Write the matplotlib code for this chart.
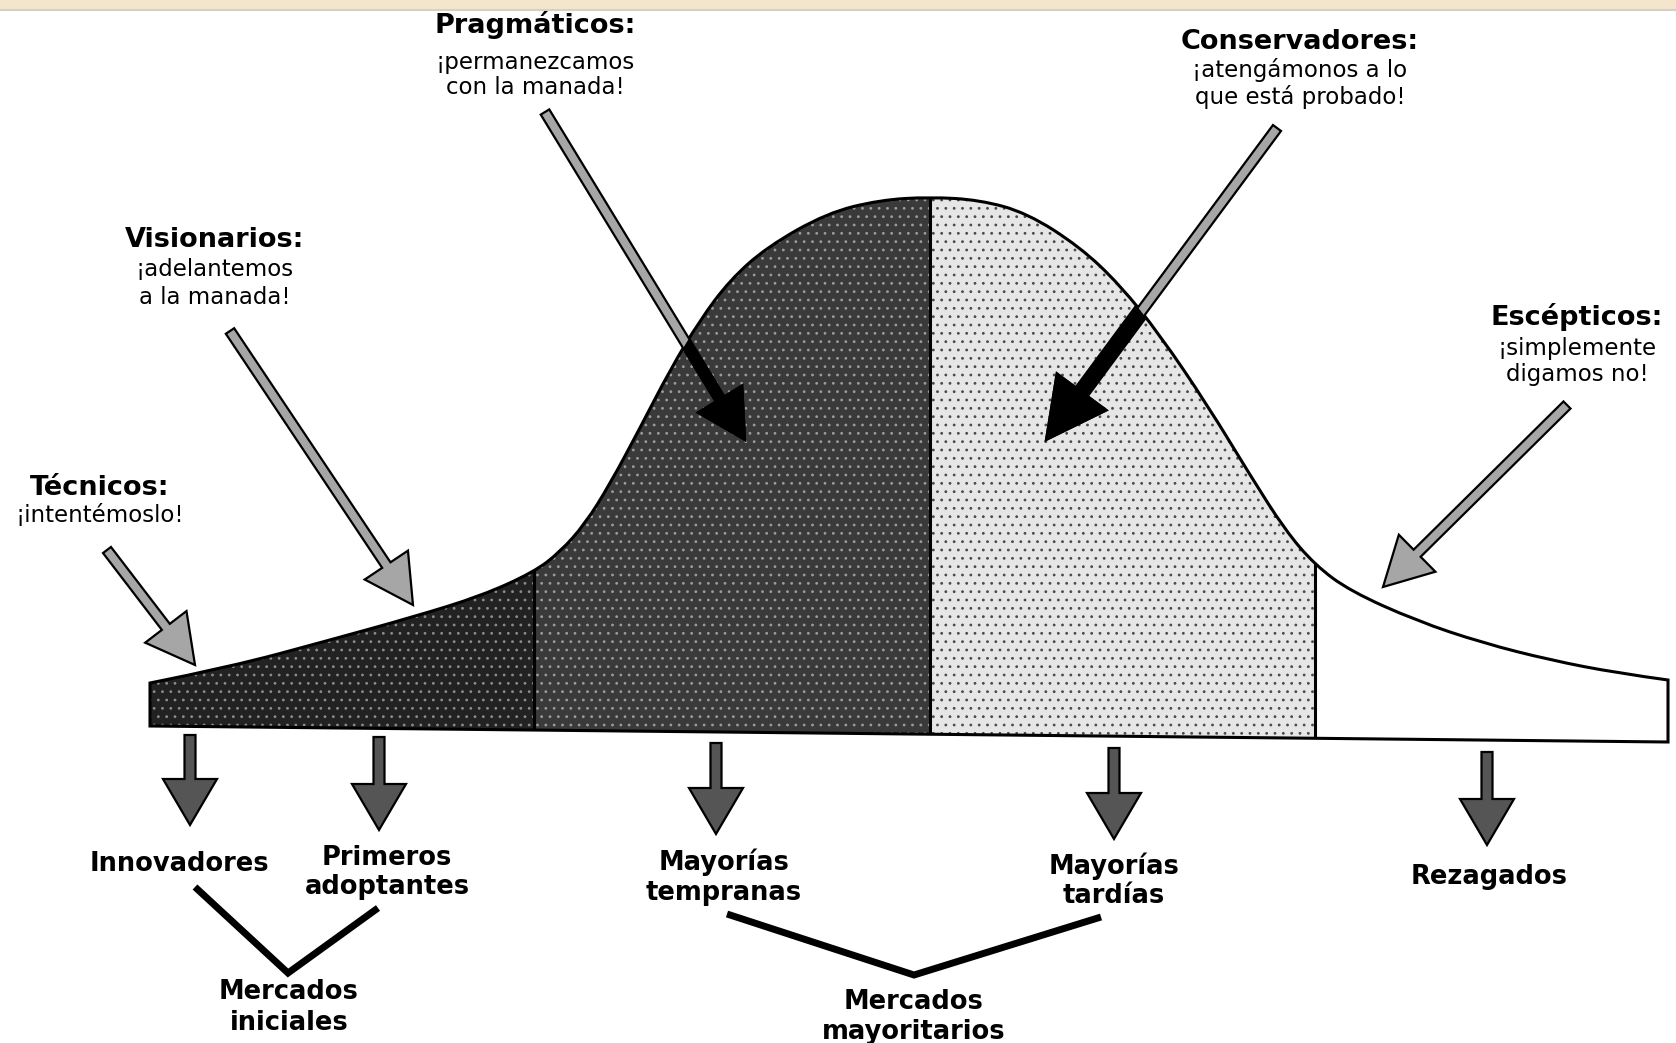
import matplotlib
matplotlib.use("Agg")
import matplotlib.pyplot as plt
from matplotlib.path import Path
from matplotlib.patches import PathPatch, Rectangle, FancyArrow

# curve outline (pixel coords, y grows downward)
curve_x = [150, 230, 330, 413, 481, 534, 560, 585, 610, 640, 670, 700, 730, 767, 827, 880,
           930, 980, 1027, 1080, 1120, 1160, 1208, 1250, 1285, 1315, 1350, 1417, 1483, 1550,
           1617, 1668]
curve_y = [683, 667, 640, 617, 596, 572, 552, 524, 484, 428, 370, 320, 280, 247, 213, 200,
           197, 200, 213, 247, 285, 335, 406, 475, 530, 565, 591, 621, 643, 660,
           673, 680]
base_y = [726, 742]  # bottom edge, left and right end

# segments of the bell
seg_edges = [150, 534, 930, 1315, 1668]
seg_colors = ["#222222", "#3a3a3a", "#e6e6e6", "#ffffff"]
seg_hatch_colors = ["#8c8c8c", "#9c9c9c", "#4a4a4a", None]

# callouts above the curve
top_titles = ["Técnicos:", "Visionarios:", "Pragmáticos:", "Conservadores:", "Escépticos:"]
top_lines = [["¡intentémoslo!"],
             ["¡adelantemos", "a la manada!"],
             ["¡permanezcamos", "con la manada!"],
             ["¡atengámonos a lo", "que está probado!"],
             ["¡simplemente", "digamos no!"]]
top_x = [100, 215, 535, 1300, 1577]
top_y = [488, 240, 25, 42, 317]
top_line_y = [[515], [270, 297], [62, 88], [70, 97], [348, 375]]

# diagonal arrows: tail, tip
diag_tail = [(107, 550), (230, 331), (545, 112), (1277, 128), (1567, 405)]
diag_tip = [(195, 665), (413, 605), (745, 440), (1046, 440), (1383, 587)]

# segment names below the curve
bottom_names = [["Innovadores"], ["Primeros", "adoptantes"], ["Mayorías", "tempranas"],
                ["Mayorías", "tardías"], ["Rezagados"]]
bottom_x = [179, 387, 724, 1114, 1489]
bottom_y = [[864], [858, 887], [862, 893], [866, 896], [877]]
down_x = [190, 379, 716, 1114, 1487]
down_top = [735, 737, 743, 748, 752]
down_tip = [825, 830, 834, 839, 845]

# market groups
group_names = [["Mercados", "iniciales"], ["Mercados", "mayoritarios"]]
group_x = [289, 914]
group_y = [[992, 1023], [1002, 1032]]
bracket_left = [(195, 887), (727, 914)]
bracket_mid = [(288, 973), (914, 975)]
bracket_right = [(378, 908), (1101, 917)]

W, H = 1676, 1043
fig = plt.figure(figsize=(W / 100, H / 100), dpi=100)
ax = fig.add_axes([0, 0, 1, 1])
ax.set_xlim(0, W)
ax.set_ylim(H, 0)
ax.axis("off")
plt.rcParams["hatch.linewidth"] = 0.8

# faint scanned band at the top
ax.add_patch(Rectangle((0, 0), W, 9, facecolor="#f4e6cc", edgecolor="none"))
ax.plot([0, W], [10, 10], color="#d0d0d0", lw=1.5)

# bell outline as a smooth path through the read points
pts = list(zip(curve_x, curve_y))
verts = [(curve_x[0], base_y[0]), pts[0]]
codes = [Path.MOVETO, Path.LINETO]
for i in range(1, len(pts) - 1):
    if i < len(pts) - 2:
        end = ((pts[i][0] + pts[i + 1][0]) / 2, (pts[i][1] + pts[i + 1][1]) / 2)
    else:
        end = pts[i + 1]
    verts += [pts[i], end]
    codes += [Path.CURVE3, Path.CURVE3]
verts += [(curve_x[-1], base_y[1]), (0, 0)]
codes += [Path.LINETO, Path.CLOSEPOLY]
bell = PathPatch(Path(verts, codes), facecolor="none", edgecolor="none")
ax.add_patch(bell)

for i in range(len(seg_colors)):
    r = Rectangle((seg_edges[i], 0), seg_edges[i + 1] - seg_edges[i], H,
                  facecolor=seg_colors[i],
                  edgecolor=seg_hatch_colors[i] or "none",
                  hatch=".." if seg_hatch_colors[i] else None, lw=0)
    ax.add_patch(r)
    r.set_clip_path(bell)

for x in seg_edges[1:-1]:
    ln, = ax.plot([x, x], [0, H], color="black", lw=2.2)
    ln.set_clip_path(bell)

ax.add_patch(PathPatch(Path(verts, codes), facecolor="none", edgecolor="black", lw=2.2))

# arrows pointing at the curve (black where they run inside the shaded area)
for k, (t, p) in enumerate(zip(diag_tail, diag_tip)):
    big = k == 3
    kw = dict(width=10, head_width=52 if not big else 62,
              head_length=48 if not big else 60, length_includes_head=True)
    a = FancyArrow(t[0], t[1], p[0] - t[0], p[1] - t[1], facecolor="#a6a6a6",
                   edgecolor="black", lw=1.6, **kw)
    ax.add_patch(a)
    if big:
        kw["width"] = 15
    b = FancyArrow(t[0], t[1], p[0] - t[0], p[1] - t[1], facecolor="black",
                   edgecolor="black", lw=1.6, **kw)
    ax.add_patch(b)
    b.set_clip_path(bell)

for x, y0, y1 in zip(down_x, down_top, down_tip):
    ax.add_patch(FancyArrow(x, y0, 0, y1 - y0, width=11, head_width=54, head_length=46,
                            length_includes_head=True, facecolor="#555555",
                            edgecolor="black", lw=1.6))

# texts
for title, lines, x, y, ys in zip(top_titles, top_lines, top_x, top_y, top_line_y):
    ax.text(x, y, title, ha="center", va="center", fontsize=19.5, fontweight="bold")
    for line, ly in zip(lines, ys):
        ax.text(x, ly, line, ha="center", va="center", fontsize=16.5)

for names, x, ys in zip(bottom_names, bottom_x, bottom_y):
    for name, y in zip(names, ys):
        ax.text(x, y, name, ha="center", va="center", fontsize=18.5, fontweight="bold")

for names, x, ys in zip(group_names, group_x, group_y):
    for name, y in zip(names, ys):
        ax.text(x, y, name, ha="center", va="center", fontsize=18.5, fontweight="bold")

for l, m, r in zip(bracket_left, bracket_mid, bracket_right):
    ax.plot([l[0], m[0], r[0]], [l[1], m[1], r[1]], color="black", lw=5,
            solid_joinstyle="miter", solid_capstyle="butt")

fig.savefig("out.png", dpi=100, facecolor="white")
